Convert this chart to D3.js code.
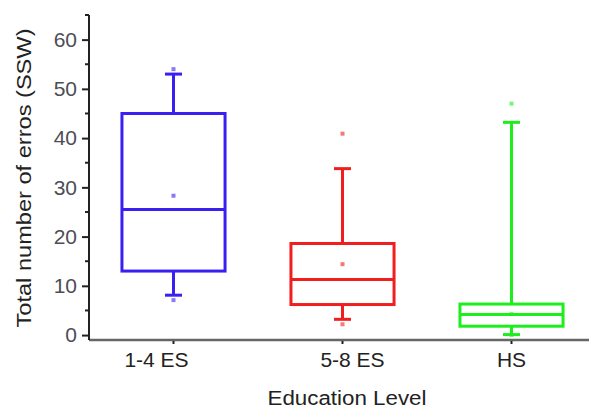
<!DOCTYPE html>
<html>
<head>
<meta charset="utf-8">
<script src="https://cdn.jsdelivr.net/npm/d3@7"></script>
<style>
  body { margin: 0; background: #fff; }
  text { font-family: "Liberation Sans", Arial, sans-serif; }
</style>
</head>
<body>
<div id="chart"></div>
<script>
// Data
const categories = ["1-4 ES", "5-8 ES", "HS"];
const q1 = [13, 6.2, 1.8];
const medians = [25.5, 11.3, 4.2];
const q3 = [45, 18.6, 6.3];
const whiskerLow = [8.1, 3.2, 0.1];
const whiskerHigh = [53, 33.8, 43.2];
const means = [28.3, 14.4, 4.3];
const minPoints = [7.1, 2.2, 0];
const maxPoints = [54, 40.9, 47];
const yTicks = [0, 10, 20, 30, 40, 50, 60];
const yMinorTicks = [5, 15, 25, 35, 45, 55, 65];

const colors = ["#3a1ff2", "#f01e1e", "#1eee1e"];
const labelShift = [-17, 10, 0];

const width = 589, height = 410;
const svg = d3.select("#chart").append("svg")
    .attr("width", width)
    .attr("height", height);

const x = d3.scalePoint().domain(categories).range([89, 596]).padding(0.5);
const y = d3.scaleLinear().domain([-1, 65]).range([340, 15]);
const boxW = x.step() * 0.61;
const capW = 17;

const boxes = categories.map((c, i) => ({
  cat: c, q1: q1[i], med: medians[i], q3: q3[i],
  lo: whiskerLow[i], hi: whiskerHigh[i], mean: means[i],
  min: minPoints[i], max: maxPoints[i], color: colors[i]
}));

// x axis line
svg.append("line")
    .attr("x1", 89).attr("x2", width)
    .attr("y1", 340).attr("y2", 340)
    .attr("stroke", "#666").attr("stroke-width", 2.5);

// x ticks
svg.selectAll(".xtick").data(categories).enter().append("line")
    .attr("x1", d => x(d)).attr("x2", d => x(d))
    .attr("y1", 341).attr("y2", 344)
    .attr("stroke", "#222").attr("stroke-width", 2);

svg.selectAll(".xlabel").data(categories).enter().append("text")
    .attr("x", (d, i) => x(d) + labelShift[i])
    .attr("y", 367)
    .attr("text-anchor", "middle")
    .attr("font-size", 21)
    .attr("fill", "#222")
    .text(d => d);

// y axis
const yAxis = svg.append("g")
    .attr("transform", "translate(89,0)")
    .call(d3.axisLeft(y).tickValues(yTicks).tickSize(7).tickPadding(5).tickSizeOuter(0));
yAxis.select(".domain").attr("stroke", "#222").attr("stroke-width", 2)
    .attr("d", `M0,${y(65)}V340`);
yAxis.selectAll(".tick line").attr("stroke", "#222").attr("stroke-width", 2);
yAxis.selectAll(".tick text")
    .attr("font-size", 21)
    .attr("font-family", "Liberation Sans, Arial, sans-serif")
    .attr("fill", "#4d4d55");

svg.append("g").selectAll("line").data(yMinorTicks).enter().append("line")
    .attr("x1", 85).attr("x2", 89)
    .attr("y1", d => y(d)).attr("y2", d => y(d))
    .attr("stroke", "#222").attr("stroke-width", 2);

// boxes
const g = svg.append("g").selectAll("g").data(boxes).enter().append("g");

g.append("line")
    .attr("x1", d => x(d.cat)).attr("x2", d => x(d.cat))
    .attr("y1", d => y(d.hi)).attr("y2", d => y(d.q3))
    .attr("stroke", d => d.color).attr("stroke-width", 3);
g.append("line")
    .attr("x1", d => x(d.cat)).attr("x2", d => x(d.cat))
    .attr("y1", d => y(d.q1)).attr("y2", d => y(d.lo))
    .attr("stroke", d => d.color).attr("stroke-width", 3);
g.append("line")
    .attr("x1", d => x(d.cat) - capW / 2).attr("x2", d => x(d.cat) + capW / 2)
    .attr("y1", d => y(d.hi)).attr("y2", d => y(d.hi))
    .attr("stroke", d => d.color).attr("stroke-width", 3);
g.append("line")
    .attr("x1", d => x(d.cat) - capW / 2).attr("x2", d => x(d.cat) + capW / 2)
    .attr("y1", d => y(d.lo)).attr("y2", d => y(d.lo))
    .attr("stroke", d => d.color).attr("stroke-width", 3);

g.append("rect")
    .attr("x", d => x(d.cat) - boxW / 2)
    .attr("y", d => y(d.q3))
    .attr("width", boxW)
    .attr("height", d => y(d.q1) - y(d.q3))
    .attr("fill", "none")
    .attr("stroke", d => d.color).attr("stroke-width", 3);

g.append("line")
    .attr("x1", d => x(d.cat) - boxW / 2).attr("x2", d => x(d.cat) + boxW / 2)
    .attr("y1", d => y(d.med)).attr("y2", d => y(d.med))
    .attr("stroke", d => d.color).attr("stroke-width", 3);

// mean, min, max markers
["mean", "min", "max"].forEach(k => {
  g.append("rect")
      .attr("x", d => x(d.cat) - 2)
      .attr("y", d => y(d[k]) - 2)
      .attr("width", 4).attr("height", 4)
      .attr("fill", d => d.color)
      .attr("opacity", 0.6);
});

// axis titles
svg.append("text")
    .attr("transform", "translate(31,178) rotate(-90)")
    .attr("text-anchor", "middle")
    .attr("font-size", 20)
    .attr("fill", "#222")
    .attr("textLength", 299)
    .attr("lengthAdjust", "spacingAndGlyphs")
    .text("Total number of erros (SSW)");

svg.append("text")
    .attr("x", 347).attr("y", 405)
    .attr("text-anchor", "middle")
    .attr("font-size", 20)
    .attr("fill", "#222")
    .attr("textLength", 159)
    .attr("lengthAdjust", "spacingAndGlyphs")
    .text("Education Level");
</script>
</body>
</html>
